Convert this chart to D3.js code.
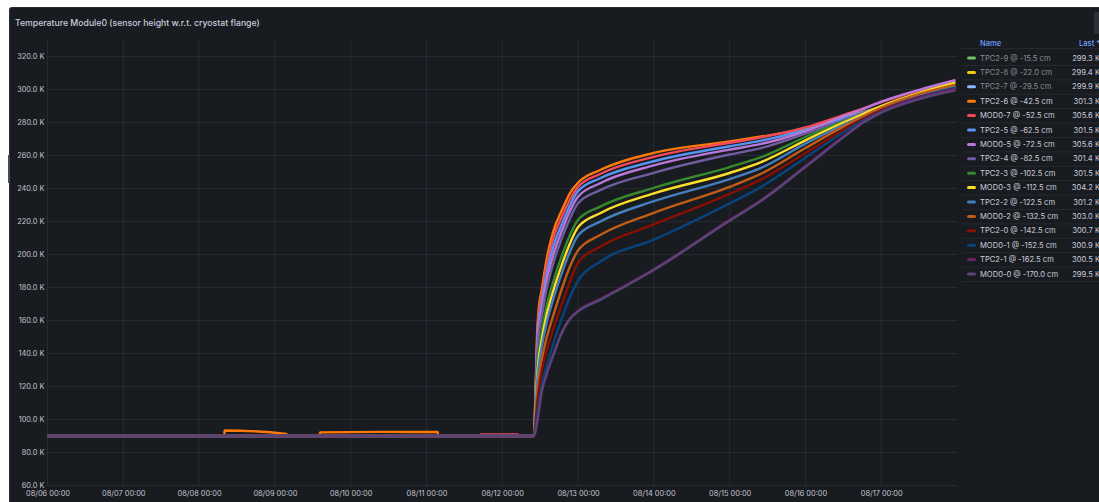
<!DOCTYPE html>
<html>
<head>
<meta charset="utf-8">
<script src="https://cdn.jsdelivr.net/npm/d3@7"></script>
<style>
  body { margin:0; background:#ffffff; overflow:hidden; }
  svg { display:block; font-family:Inter, "Noto Sans", sans-serif; }
</style>
</head>
<body>
<svg id="chart" width="1099" height="502"></svg>
<script>
/*  Data  */
var seriesNames = ["TPC2-9 @ -15.5 cm", "TPC2-8 @ -22.0 cm", "TPC2-7 @ -29.5 cm", "TPC2-6 @ -42.5 cm",
  "MOD0-7 @ -52.5 cm", "TPC2-5 @ -62.5 cm", "MOD0-5 @ -72.5 cm", "TPC2-4 @ -82.5 cm",
  "TPC2-3 @ -102.5 cm", "MOD0-3 @ -112.5 cm", "TPC2-2 @ -122.5 cm", "MOD0-2 @ -132.5 cm",
  "TPC2-0 @ -142.5 cm", "MOD0-1 @ -152.5 cm", "TPC2-1 @ -162.5 cm", "MOD0-0 @ -170.0 cm"];
var seriesColors = ["#73BF69", "#F2CC0C", "#8AB8FF", "#FF780A", "#F2495C", "#5794F2", "#B877D9", "#705DA0",
  "#37872D", "#FADE2A", "#447EBC", "#C15C17", "#890F02", "#0A437C", "#6D1F62", "#584477"];
var lastValues = [299.3, 299.4, 299.9, 301.3, 305.6, 301.5, 305.6, 301.4, 301.5, 304.2, 301.2, 303.0, 300.7, 300.9, 300.5, 299.5];
var hiddenSeries = [true, true, true, false, false, false, false, false, false, false, false, false, false, false, false, false];

var tempTicks = [60, 80, 100, 120, 140, 160, 180, 200, 220, 240, 260, 280, 300, 320];
var dayTicks = ["2024-08-06", "2024-08-07", "2024-08-08", "2024-08-09", "2024-08-10", "2024-08-11",
  "2024-08-12", "2024-08-13", "2024-08-14", "2024-08-15", "2024-08-16", "2024-08-17"];

// hours since 08/06 00:00
var baseHours = [0];
var baseTemp = 90;
var warmHours = [154, 154.5, 155, 155.5, 156.5, 158, 160, 163, 165.5, 168, 175, 192, 216, 226, 240, 252, 258, 264, 276, 287.5];

var tpc26 = [90, 113.8, 150.2, 166.4, 178.5, 196.7, 213, 227.4, 237.4, 243.5, 251.2, 261.6, 268.5, 271.5, 276.3, 283, 286.3, 289.6, 295.8, 301.3];
var mod07 = [90, 112.4, 147, 162.6, 174.8, 192.5, 208.8, 223.5, 233.5, 241, 248.8, 259.2, 267.7, 271, 277, 284.5, 288.3, 292.3, 299.5, 305.6];
var tpc25 = [90, 110.9, 143.4, 158.3, 170.5, 187.6, 203.8, 219, 230, 238.4, 246.2, 256.5, 265.6, 269, 275.5, 282.5, 286, 289.6, 296, 301.5];
var mod05 = [90, 109.6, 140.2, 154.5, 166.8, 183.5, 198.7, 215, 226.5, 235, 243.2, 254, 263.6, 267, 274.7, 283.8, 288, 292.6, 299.8, 305.6];
var tpc24 = [90, 108.1, 136.6, 150.1, 162.5, 178.6, 193.6, 210.5, 222, 231, 239, 249.5, 260.6, 264.5, 273.2, 281.5, 285.5, 289.3, 295.8, 301.4];
var tpc23 = [90, 105, 128.7, 140.7, 153, 168.5, 182.5, 200, 212, 221, 229, 240.4, 253, 259, 271.2, 280.5, 284.8, 289, 296, 301.5];
var mod03 = [90, 103.3, 124.5, 135.7, 148.3, 163, 177, 194.5, 207, 216.5, 225, 237, 249.4, 256, 269.2, 280, 285, 290, 298, 304.2];
var tpc22 = [90, 101.8, 120.8, 131.3, 144, 158, 172, 189.5, 202, 211.5, 219.9, 232.3, 245.7, 252.5, 267.2, 278.5, 283.5, 288.5, 296, 301.2];
var mod02 = [90, 99.1, 114, 123.2, 136, 149, 162, 180, 193, 202.5, 211.8, 225.3, 241, 249, 264.5, 277.5, 283.5, 289, 297.3, 303];
var tpc20 = [90, 97, 108.7, 117, 129.5, 141, 154, 170.5, 184, 195, 204.7, 218.2, 236.7, 245.5, 261.5, 275.5, 282, 287.5, 295.5, 300.7];
var mod01 = [90, 94.3, 101.9, 108.8, 121, 132, 145, 162, 174.5, 184, 195.6, 209, 231, 241, 258.7, 274, 281, 286.8, 295.3, 300.9];
var tpc21 = [90, 93, 98.3, 104.3, 117.3, 127.5, 138.5, 153.5, 161.5, 166, 173, 191.1, 221, 233, 253.5, 271.5, 280, 286.6, 295, 300.5];
var mod00 = [90, 92.6, 97.7, 103.8, 116.8, 127, 138, 153, 161, 165.5, 172.5, 190.6, 220.5, 232.5, 253, 271, 279.5, 286, 294.2, 299.5];

// small excursions before the warm-up
var tpc26PreHours = [0, 56, 56.05, 75.7, 75.8, 86.2, 86.3, 105, 123.6, 123.7];
var tpc26PreTemp = [90, 90, 93.3, 91.3, 90, 90, 92.2, 92.5, 92.4, 90];
var mod07PreHours = [0, 137, 137.1, 149, 149.1];
var mod07PreTemp = [90, 90, 91, 91, 90];

var warmValues = [null, null, null, tpc26, mod07, tpc25, mod05, tpc24, tpc23, mod03, tpc22, mod02, tpc20, mod01, tpc21, mod00];


/*  Layout  */
var W = 1099, H = 502;
var plot = { left: 47.5, right: 957, top: 40, bottom: 485.5 };
var t0 = Date.UTC(2024, 7, 6);
function hourDate(h){ return new Date(t0 + h * 3600e3); }

var svg = d3.select("#chart");

svg.append("rect")
   .attr("x", 9.5).attr("y", 7.5)
   .attr("width", W).attr("height", H)
   .attr("rx", 2)
   .attr("fill", "#181b1f")
   .attr("stroke", "#2a2d33");

// little resize handle on the left border and scroll thumb on the right
svg.append("rect").attr("x", 8).attr("y", 155).attr("width", 2).attr("height", 28).attr("fill", "#464b57");
svg.append("rect").attr("x", 1094).attr("y", 12).attr("width", 5).attr("height", 22).attr("rx", 1).attr("fill", "#2e3137");

svg.append("text")
   .attr("x", 15).attr("y", 26)
   .attr("fill", "#ccccdc")
   .style("font-size", "8.7px")
   .style("font-weight", 500)
   .text("Temperature Module0 (sensor height w.r.t. cryostat flange)");

var x = d3.scaleUtc()
          .domain([hourDate(0), hourDate(288)])
          .range([plot.left, plot.right]);
var y = d3.scaleLinear()
          .domain([60, 330])
          .range([plot.bottom, plot.top]);

var dayDates = dayTicks.map(function(s){ return new Date(s + "T00:00:00Z"); });

// grid
var grid = svg.append("g").attr("class", "grid");
grid.selectAll("line.h").data(tempTicks).enter().append("line")
    .attr("x1", plot.left).attr("x2", plot.right)
    .attr("y1", function(d){ return y(d); }).attr("y2", function(d){ return y(d); })
    .attr("stroke", "rgba(204,204,220,0.09)");
grid.selectAll("line.v").data(dayDates).enter().append("line")
    .attr("x1", function(d){ return x(d); }).attr("x2", function(d){ return x(d); })
    .attr("y1", plot.top).attr("y2", plot.bottom)
    .attr("stroke", "rgba(204,204,220,0.09)");

// axes
var yAxis = svg.append("g")
   .attr("transform", "translate(44.5,0)")
   .call(d3.axisLeft(y).tickValues(tempTicks).tickSize(0).tickPadding(0)
           .tickFormat(function(d){ return d.toFixed(1) + " K"; }));
var xAxis = svg.append("g")
   .attr("transform", "translate(0," + plot.bottom + ")")
   .call(d3.axisBottom(x).tickValues(dayDates).tickSize(0).tickPadding(5)
           .tickFormat(d3.utcFormat("%m/%d %H:%M")));
[yAxis, xAxis].forEach(function(a){
  a.select(".domain").remove();
  a.selectAll("text").attr("fill", "#c4c5cf").style("font-size", "7.4px").style("font-family", "Inter");
});

// lines
svg.append("clipPath").attr("id", "plotclip")
   .append("rect")
   .attr("x", plot.left).attr("y", plot.top)
   .attr("width", plot.right - plot.left + 2).attr("height", plot.bottom - plot.top);

var line = d3.line()
             .x(function(d){ return x(hourDate(d[0])); })
             .y(function(d){ return y(d[1]); })
             .curve(d3.curveMonotoneX);

var lines = svg.append("g").attr("clip-path", "url(#plotclip)");
seriesNames.forEach(function(name, i){
  if (hiddenSeries[i]) return;
  var pts = [];
  if (i === 3)
    tpc26PreHours.forEach(function(h, k){ pts.push([h, tpc26PreTemp[k]]); });
  else if (i === 4)
    mod07PreHours.forEach(function(h, k){ pts.push([h, mod07PreTemp[k]]); });
  else
    baseHours.forEach(function(h){ pts.push([h, baseTemp]); });
  warmHours.forEach(function(h, k){ pts.push([h, warmValues[i][k]]); });
  lines.append("path")
       .attr("d", line(pts))
       .attr("fill", "none")
       .attr("stroke", seriesColors[i])
       .attr("stroke-width", 2.4)
       .attr("stroke-linejoin", "round");
});

// legend table
var lg = svg.append("g").style("font-size", "7.6px");
var rowY0 = 58, rowH = 14.4;
lg.append("text").attr("x", 980).attr("y", 43).attr("dy", "0.35em").attr("fill", "#6e9fff").style("font-weight", 500).text("Name");
lg.append("text").attr("x", 1079).attr("y", 43).attr("dy", "0.35em").attr("fill", "#6e9fff").style("font-weight", 500).text("Last *");
lg.append("line").attr("x1", 962).attr("x2", W).attr("y1", 48.5).attr("y2", 48.5).attr("stroke", "rgba(204,204,220,0.08)");

seriesNames.forEach(function(name, i){
  var cy = rowY0 + i * rowH;
  lg.append("rect").attr("x", 967).attr("y", cy - 1.5).attr("width", 9).attr("height", 3).attr("rx", 1.5)
    .attr("fill", seriesColors[i]);
  lg.append("text").attr("x", 980).attr("y", cy).attr("dy", "0.35em")
    .attr("fill", hiddenSeries[i] ? "#8b8c94" : "#ccccdc").text(name);
  lg.append("text").attr("x", 1100).attr("y", cy).attr("dy", "0.35em").attr("text-anchor", "end")
    .attr("fill", "#ccccdc").text(lastValues[i].toFixed(1) + " K");
  lg.append("line").attr("x1", 962).attr("x2", W).attr("y1", cy + 7.5).attr("y2", cy + 7.5)
    .attr("stroke", "rgba(204,204,220,0.08)");
});
</script>
</body>
</html>
